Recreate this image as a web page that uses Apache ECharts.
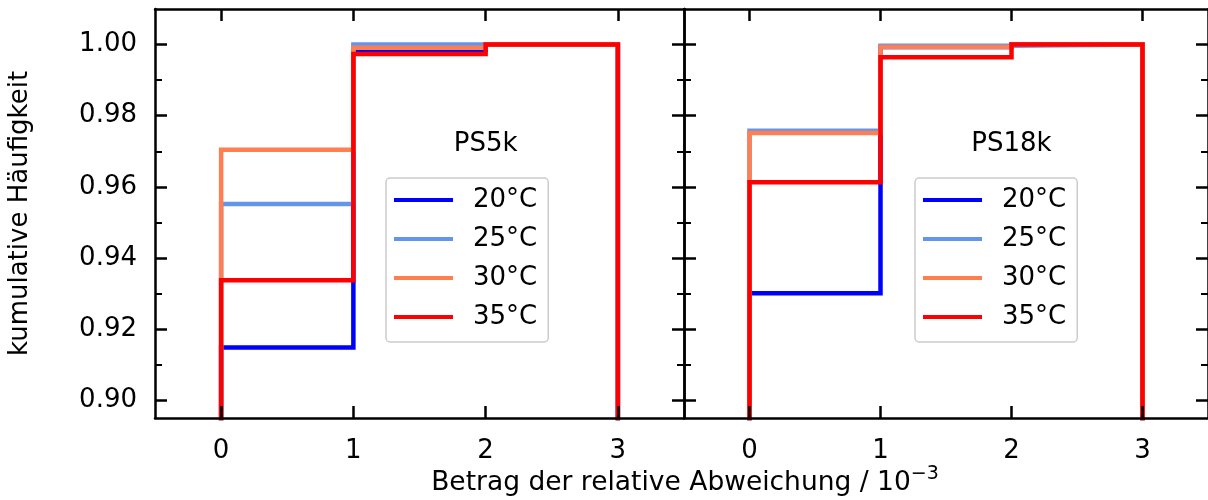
<!DOCTYPE html>
<html>
<head>
<meta charset="utf-8">
<script src="https://cdn.jsdelivr.net/npm/echarts@6/dist/echarts.min.js"></script>
<style>
  html, body { margin: 0; padding: 0; background: #ffffff; }
  #chart { width: 1208px; height: 500px; }
</style>
</head>
<body>
<div id="chart"></div>
<script>
// Histogram bin edges (relative deviation / 1e-3)
const binEdges = [0, 1, 2, 3];
const temperatures = ['20°C', '25°C', '30°C', '35°C'];

// Cumulative frequency per bin, PS5k
const ps5k20 = [0.9148, 0.9985, 1.0];
const ps5k25 = [0.9552, 1.0, 1.0];
const ps5k30 = [0.9704, 0.9991, 1.0];
const ps5k35 = [0.9337, 0.99735, 1.0];

// Cumulative frequency per bin, PS18k
const ps18k20 = [0.9301, 0.9993, 1.0];
const ps18k25 = [0.9758, 0.9997, 1.0];
const ps18k30 = [0.9751, 0.99935, 1.0];
const ps18k35 = [0.9613, 0.9964, 1.0];

const panelNames = ['PS5k', 'PS18k'];
const xTickValues = [0, 1, 2, 3];
const yTickValues = [0.90, 0.92, 0.94, 0.96, 0.98, 1.00];
const yMinorTickValues = [0.91, 0.93, 0.95, 0.97, 0.99];

const panels = [
  [ps5k20, ps5k25, ps5k30, ps5k35],
  [ps18k20, ps18k25, ps18k30, ps18k35]
];

const lineColors = ['#0000ff', '#6495ed', '#ff7f50', '#ff0000'];
const FONT = 'DejaVu Sans';
const X_RANGE = [-0.5, 3.5];
const Y_RANGE = [0.895, 1.01];
const LABEL_POS = [2, 0.972];

// Outline of a cumulative step histogram: up from zero at the first edge,
// across each bin, back down to zero at the last edge.
function stepOutline(edges, cum) {
  const pts = [[edges[0], 0]];
  for (let i = 0; i < cum.length; i++) {
    pts.push([edges[i], cum[i]]);
    pts.push([edges[i + 1], cum[i]]);
  }
  pts.push([edges[edges.length - 1], 0]);
  return pts;
}

const spine = { show: true, onZero: false, lineStyle: { color: '#000', width: 2.5 } };

const grids = [
  { left: 155, top: 9, width: 529, height: 409 },
  { left: 684, top: 9, width: 529, height: 409 }
];

const xAxes = [];
const yAxes = [];
const series = [];
const legends = [];

panels.forEach((panel, g) => {
  // bottom and top x axes
  ['bottom', 'top'].forEach((pos) => {
    xAxes.push({
      type: 'value', gridIndex: g, position: pos,
      min: X_RANGE[0], max: X_RANGE[1], z: 5,
      axisLine: spine,
      axisTick: { show: true, inside: true, length: 12, customValues: xTickValues,
                  lineStyle: { color: '#000', width: 2.5 } },
      axisLabel: { show: pos === 'bottom', customValues: xTickValues, margin: 20,
                   color: '#000', fontFamily: FONT, fontSize: 26 },
      splitLine: { show: false }
    });
  });
  // left/right major and minor y axes
  ['left', 'right'].forEach((pos) => {
    yAxes.push({
      type: 'value', gridIndex: g, position: pos,
      min: Y_RANGE[0], max: Y_RANGE[1], z: 5,
      name: (g === 0 && pos === 'left') ? 'kumulative Häufigkeit' : '',
      nameLocation: 'middle', nameGap: 122, nameRotate: 90,
      nameTextStyle: { color: '#000', fontFamily: FONT, fontSize: 26 },
      axisLine: spine,
      axisTick: { show: true, inside: true, length: 12, customValues: yTickValues,
                  lineStyle: { color: '#000', width: 2.5 } },
      axisLabel: { show: g === 0 && pos === 'left', customValues: yTickValues, margin: 18,
                   color: '#000', fontFamily: FONT, fontSize: 26,
                   formatter: (v) => v.toFixed(2) },
      splitLine: { show: false }
    });
    yAxes.push({
      type: 'value', gridIndex: g, position: pos,
      min: Y_RANGE[0], max: Y_RANGE[1], z: 5,
      axisLine: { show: false, onZero: false },
      axisTick: { show: true, inside: true, length: 7, customValues: yMinorTickValues,
                  lineStyle: { color: '#000', width: 2 } },
      axisLabel: { show: false },
      splitLine: { show: false }
    });
  });

  panel.forEach((cum, k) => {
    series.push({
      type: 'line', name: temperatures[k],
      xAxisIndex: 2 * g, yAxisIndex: 4 * g,
      data: stepOutline(binEdges, cum),
      showSymbol: false, symbol: 'none', clip: true,
      lineStyle: { color: lineColors[k], width: 4.5, join: 'miter', cap: 'butt' },
      itemStyle: { color: lineColors[k] },
      emphasis: { disabled: true },
      animation: false
    });
  });

  // panel caption
  series.push({
    type: 'scatter', name: panelNames[g],
    xAxisIndex: 2 * g, yAxisIndex: 4 * g,
    data: [{ value: LABEL_POS, name: panelNames[g] }],
    symbolSize: 1, itemStyle: { color: 'rgba(0,0,0,0)', opacity: 1 },
    label: { show: true, position: 'inside', formatter: '{b}', opacity: 1,
             color: '#000', fontFamily: FONT, fontSize: 26 },
    emphasis: { disabled: true },
    silent: true, animation: false
  });

  legends.push({
    orient: 'vertical',
    left: grids[g].left + 231, top: 178,
    data: temperatures,
    icon: 'rect', itemWidth: 59, itemHeight: 4, itemGap: 13,
    padding: [9, 11, 12, 8],
    backgroundColor: 'rgba(255,255,255,0.8)',
    borderColor: '#cccccc', borderWidth: 1.5, borderRadius: 4,
    textStyle: { color: '#000', fontFamily: FONT, fontSize: 26, padding: [0, 0, 0, 15] },
    selectedMode: false
  });
});

const chart = echarts.init(document.getElementById('chart'), null, { renderer: 'canvas' });
chart.setOption({
  animation: false,
  backgroundColor: '#ffffff',
  grid: grids,
  xAxis: xAxes,
  yAxis: yAxes,
  legend: legends,
  title: {
    text: '{t|Betrag der relative Abweichung / 10}{s|−3}',
    left: 685, top: 465, textAlign: 'center', padding: 0,
    textStyle: {
      fontWeight: 'normal',
      rich: {
        t: { fontFamily: FONT, fontSize: 26.5, fontWeight: 'normal', color: '#000', lineHeight: 36 },
        s: { fontFamily: FONT, fontSize: 19, fontWeight: 'normal', color: '#000', verticalAlign: 'top' }
      }
    }
  },
  series: series
});
</script>
</body>
</html>
